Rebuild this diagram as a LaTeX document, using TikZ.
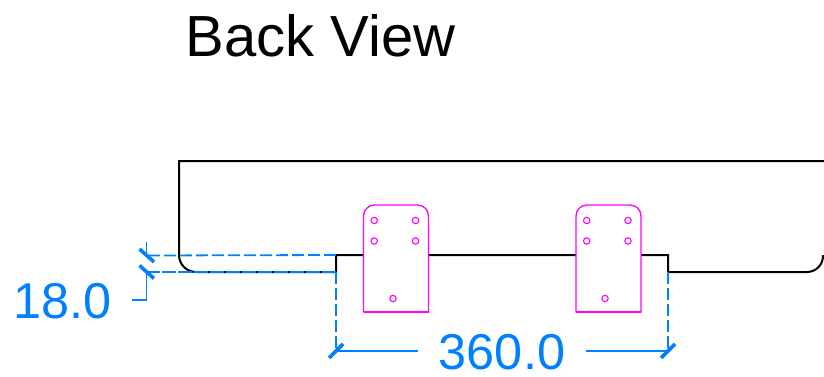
\documentclass[tikz,border=0pt]{standalone}
\usepackage{fontspec}
\setmainfont{Liberation Sans}
\definecolor{dimblue}{RGB}{0,128,255}
\definecolor{partpink}{RGB}{255,0,255}
\tikzset{
	outline/.style={draw=black, line width=2pt},
	bracket/.style={draw=partpink, fill=white, line width=1.3pt},
	hole/.style={draw=partpink, line width=1.1pt},
	dimline/.style={draw=dimblue, line width=1.8pt},
	dimdash/.style={dimline, dash pattern=on 12pt off 4pt},
	dimtick/.style={draw=dimblue, line width=3.6pt},
	dimtext/.style={text=dimblue, font=\fontsize{50.4}{50}\selectfont, inner sep=0pt, anchor=base}
}
\begin{document}
\begin{tikzpicture}[x=1pt, y=-1pt]
	\useasboundingbox (0,0) rectangle (824,377);
	\node[font=\fontsize{58}{58}\selectfont, inner sep=0pt, anchor=base] (title) at (320.5,57) {Back View};
	% back plate
	\draw[outline] (824,161) -- (179,161) -- (179,255) arc[start angle=180, end angle=90, radius=17]
		-- (336,272) -- (336,255) -- (668,255) -- (668,272) -- (807,272)
		arc[start angle=90, end angle=0, radius=16] -- (823,255);
	% brackets
	\foreach \i/\j in {363.5/393, 576/605} {
		\draw[bracket] (\i,312) -- (\i,216) arc[start angle=180, end angle=270, radius=11]
			-- (\i+54,205) arc[start angle=270, end angle=360, radius=11] -- (\i+65,312) -- cycle;
		\draw[partpink, line width=1.8pt] (\i,312) -- (\i+65,312);
		\foreach \k in {220.5,241} {
			\draw[hole] (\i+10.7,\k) circle (3.2);
			\draw[hole] (\i+52,\k) circle (3.2);
		}
		\draw[hole] (\j,298.5) circle (3.2);
	}
	% dimension 18.0
	\coordinate (upl) at (336,255);
	\coordinate (lowl) at (336,272);
	\coordinate (upt) at (146.5,255.5);
	\coordinate (lowt) at (146.5,272);
	\draw[dimdash] (upl) -- (upt);
	\draw[dimdash, dash pattern=on 14pt off 2pt] (lowl) -- (lowt);
	\draw[dimline] (146.5,241.5) -- (upt);
	\draw[dimline] (lowt) -- (146.5,300) -- (132,300);
	\foreach \a in {upt, lowt} {
		\draw[dimtick] ([xshift=-7pt, yshift=6.5pt]\a) -- ([xshift=7.5pt, yshift=-6.5pt]\a);
	}
	\node[dimtext] (dimh) at (62.5,318) {18.0};
	% dimension 360.0
	\coordinate (leftt) at (336,351);
	\coordinate (rightt) at (668,351);
	\draw[dimdash] (lowl) -- (leftt);
	\draw[dimdash] (668,272) -- (rightt);
	\draw[dimline] (leftt) -- (418,351);
	\draw[dimline] (rightt) -- (586,351);
	\foreach \a in {leftt, rightt} {
		\draw[dimtick] ([xshift=-7pt, yshift=-7pt]\a) -- ([xshift=7pt, yshift=7pt]\a);
	}
	\node[dimtext] (dimw) at (502,369) {360.0};
\end{tikzpicture}
\end{document}
